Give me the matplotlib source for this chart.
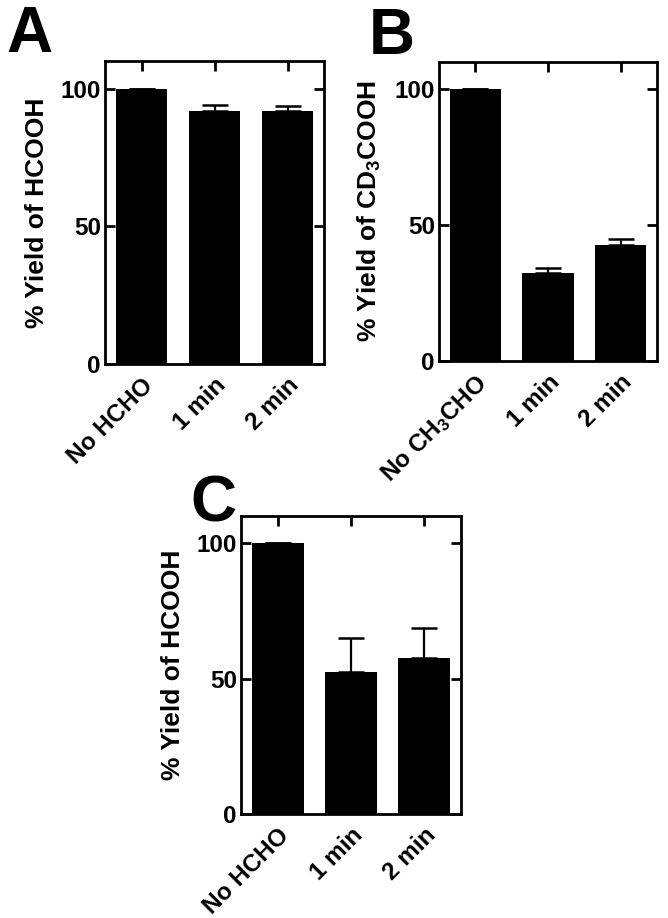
import matplotlib
matplotlib.use('Agg')
import matplotlib.pyplot as plt
import numpy as np

plt.rcParams['font.family'] = ['Liberation Sans', 'DejaVu Sans']
plt.rcParams['font.weight'] = 'bold'
plt.rcParams['mathtext.fontset'] = 'custom'
plt.rcParams['mathtext.rm'] = 'Liberation Sans:bold'
plt.rcParams['mathtext.default'] = 'rm'

# panel data
labels_a = ['No HCHO', '1 min', '2 min']
yield_a = [100, 92.0, 91.8]
err_a = [0, 2.1, 1.7]

labels_b = ['No CH$_3$CHO', '1 min', '2 min']
yield_b = [100, 32.5, 42.6]
err_b = [0, 1.6, 2.1]

labels_c = ['No HCHO', '1 min', '2 min']
yield_c = [100, 52.6, 57.4]
err_c = [0, 12.2, 11.1]

ylabel_a = '% Yield of HCOOH'
ylabel_b = '% Yield of CD$_3$COOH'
ylabel_c = '% Yield of HCOOH'

W, H = 668, 918
fig = plt.figure(figsize=(W / 100, H / 100), dpi=100)


def add_panel(box, labels, vals, errs, ylabel, letter, letter_xy):
    l, r, t, b = box
    ax = fig.add_axes([l / W, 1 - b / H, (r - l) / W, (b - t) / H])
    x = np.arange(len(vals))
    ax.bar(x, vals, width=0.71, color='black', zorder=2)
    errs = np.array(errs)
    ax.errorbar(x, vals, yerr=[np.zeros_like(errs), errs], fmt='none',
                ecolor='black', elinewidth=1.6, capsize=9.7, capthick=1.8, zorder=1)
    ax.set_xlim(-0.5, 2.5)
    ax.set_ylim(0, 110)
    ax.set_yticks([0, 50, 100])
    ax.set_xticks(x)
    ax.set_xticklabels(labels, rotation=45, ha='right', rotation_mode='anchor')
    ax.tick_params(direction='in', top=True, right=True, width=2, length=7,
                   labelsize=17.5, pad=3)
    ax.tick_params(axis='x', pad=7)
    for lab in ax.get_xticklabels() + ax.get_yticklabels():
        lab.set_fontweight('bold')
    for sp in ax.spines.values():
        sp.set_linewidth(2)
    ax.set_ylabel(ylabel, fontsize=19, fontweight='bold', labelpad=8)
    fig.text(letter_xy[0] / W, 1 - letter_xy[1] / H, letter, fontsize=46,
             fontweight='bold', va='top', ha='left')
    return ax


add_panel((105, 324, 61, 364), labels_a, yield_a, err_a, ylabel_a, 'A', (6, 5))
add_panel((439, 657, 62, 361), labels_b, yield_b, err_b, ylabel_b, 'B', (369, 7))
add_panel((241, 461, 516, 814), labels_c, yield_c, err_c, ylabel_c, 'C', (190, 475))

fig.savefig('out.png', dpi=100)
